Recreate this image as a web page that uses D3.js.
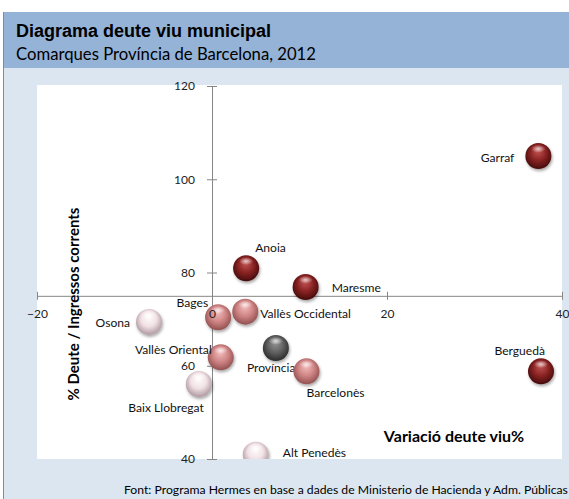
<!DOCTYPE html>
<html><head><meta charset="utf-8">
<script src="https://cdn.jsdelivr.net/npm/d3@7"></script>
<style>html,body{margin:0;padding:0;background:#fff;}svg{display:block;}</style>
</head><body>
<svg id="chart" width="569" height="499"></svg>
<script>
// ---- data ----
const names = ["Garraf","Anoia","Maresme","Bages","Vallès Occidental","Osona","Vallès Oriental","Província","Barcelonès","Baix Llobregat","Berguedà","Alt Penedès"];
const variacio = [37.3, 3.9, 10.7, 0.7, 3.8, -7.2, 1.0, 7.3, 10.8, -1.5, 37.6, 5.0];
const deuteIngressos = [105.0, 80.9, 76.9, 70.4, 71.6, 69.4, 61.8, 63.8, 58.8, 56.1, 58.8, 40.9];
const group = ["dark","dark","dark","mid","mid","light","mid","gray","mid","light","dark","light"];
const xTicks = [-20, 0, 20, 40];
const yTicks = [40, 60, 80, 100, 120];
const title = "Diagrama deute viu municipal";
const subtitle = "Comarques Província de Barcelona, 2012";
const xTitle = "Variació deute viu%";
const yTitle = "% Deute / Ingressos corrents";
const source = "Font: Programa Hermes en base a dades de Ministerio de Hacienda y Adm. Públicas";

// ---- drawing ----
const svg = d3.select("#chart");
const F = "Lato, 'Open Sans', sans-serif";

const palettes = {
  dark:  ["#c55656", "#8a2323", "#450b0b"],
  mid:   ["#f4c0c0", "#d08585", "#925050"],
  light: ["#ffffff", "#f1e1e5", "#b09aa2"],
  gray:  ["#969696", "#616161", "#2b2b2b"]
};
const defs = svg.append("defs");
Object.entries(palettes).forEach(([k, c]) => {
  const g = defs.append("radialGradient").attr("id", "g-" + k)
    .attr("cx", "50%").attr("cy", "45%").attr("r", "55%").attr("fx", "48%").attr("fy", "28%");
  g.append("stop").attr("offset", "0%").attr("stop-color", c[0]);
  g.append("stop").attr("offset", "55%").attr("stop-color", c[1]);
  g.append("stop").attr("offset", "100%").attr("stop-color", c[2]);
});
const flt = defs.append("filter").attr("id", "shadow").attr("x", "-50%").attr("y", "-50%").attr("width", "200%").attr("height", "200%");
flt.append("feDropShadow").attr("dx", 1).attr("dy", 2).attr("stdDeviation", 1.6).attr("flood-color", "#000").attr("flood-opacity", 0.35);
const hl = defs.append("radialGradient").attr("id", "spec").attr("cx", "50%").attr("cy", "50%").attr("r", "50%");
hl.append("stop").attr("offset", "0%").attr("stop-color", "#fff").attr("stop-opacity", 0.7);
hl.append("stop").attr("offset", "100%").attr("stop-color", "#fff").attr("stop-opacity", 0);

// frame
svg.append("rect").attr("x", 3).attr("y", 12).attr("width", 566).attr("height", 56).attr("fill", "#95b3d7");
svg.append("rect").attr("x", 3).attr("y", 68).attr("width", 566).attr("height", 431).attr("fill", "#dce6f1");
svg.append("line").attr("x1", 3.5).attr("x2", 3.5).attr("y1", 12).attr("y2", 499).attr("stroke", "#8a8a8a");

svg.append("text").attr("x", 16).attr("y", 37).attr("font-family", "'Liberation Sans', Arial, sans-serif")
  .attr("font-weight", "bold").attr("font-size", 18).attr("fill", "#000").text(title);
svg.append("text").attr("x", 16).attr("y", 60).attr("font-family", F)
  .attr("font-size", 16.7).attr("fill", "#000").text(subtitle);

const px0 = 37, px1 = 562, py0 = 86, py1 = 459;
svg.append("rect").attr("x", px0).attr("y", py0 - 1).attr("width", px1 - px0).attr("height", py1 - py0 + 1).attr("fill", "#fff");
defs.append("clipPath").attr("id", "plotclip").append("rect")
  .attr("x", px0).attr("y", py0 - 1).attr("width", px1 - px0).attr("height", py1 - py0 + 1);

const x = d3.scaleLinear().domain([-20, 40]).range([px0, px1]);
const y = d3.scaleLinear().domain([40, 120]).range([py1, py0]);

const yAxis = d3.axisLeft(y).tickValues(yTicks).tickSizeInner(5).tickSizeOuter(0).tickPadding(12);
const xAxis = d3.axisBottom(x).tickValues(xTicks).tickSizeInner(4).tickSizeOuter(0).tickPadding(10);

function styleAxis(g, withLines, withText) {
  g.select(".domain").attr("stroke", "#868686");
  g.selectAll(".tick line").attr("stroke", "#868686");
  g.selectAll(".tick text").attr("font-family", F).attr("font-size", 12).attr("fill", "#222");
  if (!withLines) { g.select(".domain").remove(); g.selectAll(".tick line").remove(); }
  if (!withText) g.selectAll(".tick text").remove();
}
// axis lines (under bubbles)
const yLines = svg.append("g").attr("transform", `translate(${x(0)},0)`).call(yAxis);
yLines.selectAll(".tick line").attr("x1", -5).attr("x2", 5);
styleAxis(yLines, true, false);
const xLines = svg.append("g").attr("transform", `translate(0,${y(75)})`).call(xAxis);
xLines.selectAll(".tick line").attr("y1", -4).attr("y2", 4);
styleAxis(xLines, true, false);

// axis titles
svg.append("text").attr("transform", "translate(79,304) rotate(-90)").attr("text-anchor", "middle")
  .attr("font-family", F).attr("font-weight", "bold").attr("font-size", 15).attr("fill", "#000").text(yTitle);
svg.append("text").attr("x", 454).attr("y", 442).attr("text-anchor", "middle")
  .attr("font-family", F).attr("font-weight", "bold").attr("font-size", 16).attr("fill", "#000").text(xTitle);

// bubbles
const data = names.map((n, i) => ({name: n, vx: variacio[i], vy: deuteIngressos[i], g: group[i]}));
const plot = svg.append("g").attr("clip-path", "url(#plotclip)");
const R = 13;
const place = {
  "Garraf": [-24, 6, "end"], "Anoia": [9, -16, "start"], "Maresme": [26, 5, "start"],
  "Bages": [-10, -10, "end"], "Vallès Occidental": [15, 6, "start"], "Osona": [-19, 5, "end"],
  "Vallès Oriental": [-9, -3, "end"], "Província": [-29, 24, "start"], "Barcelonès": [0, 26, "start"],
  "Baix Llobregat": [5, 28, "end"], "Berguedà": [4, -16, "end"], "Alt Penedès": [27, 2, "start"]
};
const labelG = plot.append("g");
const bubG = plot.append("g");
const bub = bubG.selectAll("g.b").data(data).join("g").attr("class", "b")
  .attr("transform", d => `translate(${x(d.vx)},${y(d.vy)})`);
bub.append("circle").attr("r", R).attr("fill", d => `url(#g-${d.g})`).attr("filter", "url(#shadow)");
bub.append("ellipse").attr("cx", 0).attr("cy", -R * 0.55).attr("rx", R * 0.55).attr("ry", R * 0.3).attr("fill", "url(#spec)");

labelG.selectAll("text").data(data).join("text")
  .attr("x", d => x(d.vx) + place[d.name][0]).attr("y", d => y(d.vy) + place[d.name][1])
  .attr("text-anchor", d => place[d.name][2])
  .attr("font-family", F).attr("font-size", 12.1).attr("fill", "#111").text(d => d.name);
labelG.raise();
bubG.selectAll("g.b").filter(d => d.name === "Barcelonès").each(function(){ plot.node().appendChild(this); });

// tick text on top
const yText = svg.append("g").attr("transform", `translate(${x(0)},0)`).call(yAxis);
styleAxis(yText, false, true);
const xText = svg.append("g").attr("transform", `translate(0,${y(75)})`).call(xAxis);
styleAxis(xText, false, true);

svg.append("text").attr("x", 124).attr("y", 494).attr("font-family", F)
  .attr("font-size", 12.2).attr("fill", "#000").text(source);
</script>
</body></html>
